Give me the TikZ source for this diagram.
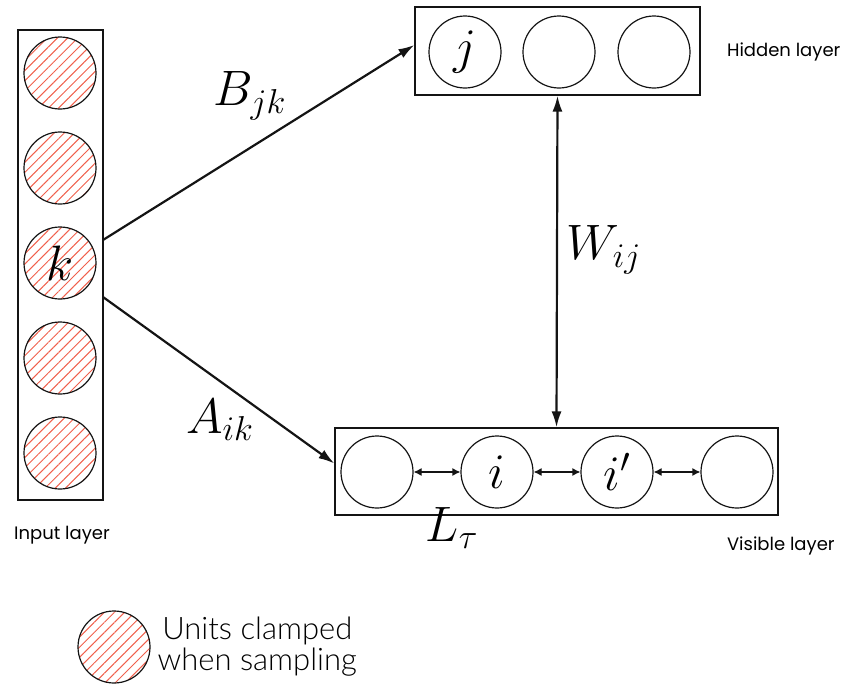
\documentclass[tikz,border=0pt]{standalone}
\usepackage{fontspec}
\usepackage{amsmath}
\usepackage{xcolor}
\usetikzlibrary{
  arrows.meta,
  positioning,
  calc,
  patterns.meta,
}
\newfontfamily\layerfont{Poppins}
\newfontfamily\legendfont{Lato Light}
\DeclareMathSizes{25}{25}{19}{14}
\definecolor{hatchred}{RGB}{240,96,76}
\definecolor{linecol}{RGB}{20,20,20}
\tikzset{
  unitnode/.style={
    circle, draw=linecol, line width=0.6pt, minimum size=36pt, inner sep=0pt,
    font=\fontsize{24}{28}\selectfont
  },
  clampnode/.style={unitnode,
    pattern={Lines[angle=45, distance=3.6pt, line width=0.5pt]},
    pattern color=hatchred
  },
  layerbox/.style={
    rectangle, draw=linecol, line width=0.6pt, inner sep=0pt
  },
  layerlabel/.style={font=\layerfont\fontsize{9}{11}\selectfont},
  weightlabel/.style={font=\fontsize{25}{30}\selectfont},
  bigarrow/.style={-{Latex[length=8pt, width=5pt]}, line width=1.1pt, linecol},
  bigdouble/.style={{Latex[length=8pt, width=5pt]}-{Latex[length=8pt, width=5pt]}, line width=1.1pt, linecol},
  lateral/.style={{Latex[length=4pt, width=4pt]}-{Latex[length=4pt, width=4pt]}, line width=0.6pt, linecol},
}

\begin{document}
\begin{tikzpicture}[x=0.5pt, y=0.5pt]
  \useasboundingbox (0,0) rectangle (848,-686);

  % ── Input layer ──
  \node[layerbox, minimum width=42.5pt, minimum height=235pt] (inbox) at (60.5,-265) {};
  \foreach \i/\lab in {1/{},2/{},3/k,4/{},5/{}} {
    \node[clampnode] (in\i) at (60,{-73-95*(\i-1)}) {$\lab$};
  }
  \node[layerlabel] (inlab) at (62,-535) {Input layer};

  % ── Hidden layer ──
  \node[layerbox, minimum width=142.5pt, minimum height=44pt] (hid) at (557.5,-51) {};
  \node[unitnode] (h1) at (465,-52) {$j$};
  \node[unitnode] (h2) at (559,-52) {};
  \node[unitnode] (h3) at (654,-52) {};
  \node[layerlabel, anchor=west] (hidlab) at (720,-52) {Hidden layer};

  % ── Visible layer ──
  \node[layerbox, minimum width=221.5pt, minimum height=43.5pt] (vis) at (556.5,-471.5) {};
  \node[unitnode] (v1) at (377,-472) {};
  \node[unitnode] (v2) at (497,-472) {$i$};
  \node[unitnode] (v3) at (617,-472) {$i'$};
  \node[unitnode] (v4) at (737,-472) {};
  \node[layerlabel, anchor=west] (vislab) at (720,-546) {Visible layer};
  \node[weightlabel] (Ltau) at (452,-528) {$L_\tau$};

  % ── Lateral connections ──
  \foreach \i in {1,2,3} {
    \pgfmathtruncatemacro{\nxt}{\i+1}
    \draw[lateral] (v\i.east) -- (v\nxt.west);
  }

  % ── Weights ──
  \coordinate (kB) at (103,-240);
  \coordinate (kA) at (103,-297);
  \draw[bigarrow] (kB) -- ($(hid.west)+(0,6)$);
  \draw[bigarrow] (kA) -- ($(vis.west)+(0,8)$);
  \draw[bigdouble] (hid.south) -- (vis.north);
  \node[weightlabel] (Bjk) at (250,-96) {$B_{jk}$};
  \node[weightlabel] (Aik) at (220,-420) {$A_{ik}$};
  \node[weightlabel] (Wij) at (604,-250) {$W_{ij}$};

  % ── Legend ──
  \node[clampnode] (key) at (114,-647) {};
  \node[font=\legendfont\fontsize{15.5}{15.5}\selectfont, align=center, right=0pt of key] (keylab)
    {Units clamped\\when sampling};

\end{tikzpicture}
\end{document}
